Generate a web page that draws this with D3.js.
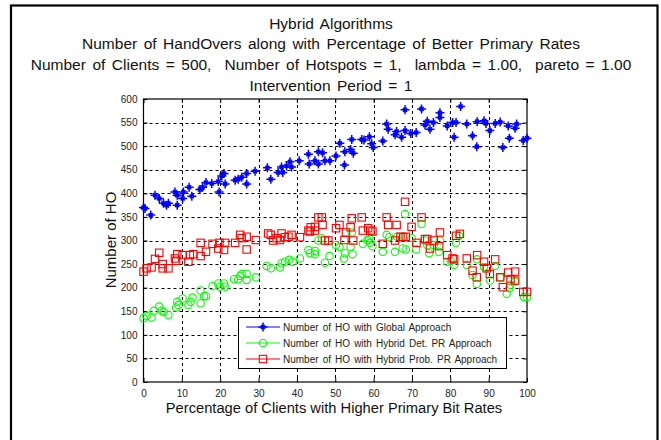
<!DOCTYPE html>
<html>
<head>
<meta charset="utf-8">
<script src="https://cdn.jsdelivr.net/npm/d3@7"></script>
<style>
  body { margin: 0; background: #fff; }
  svg { display: block; font-family: "Liberation Sans", Arial, sans-serif; }
  .pre { white-space: pre; }
</style>
</head>
<body>
<div id="chart"></div>
<script>
// Dados: [percentagem, numero de HO]
const globalHO = [
  [0,370],[0.4,368],[1.9,354],[3,396],[4.1,389],[5.2,379],[6,375],[6.5,379],[8.2,403],[8.8,396],
  [8.8,375],[10.2,389],[10.4,403],[11.9,413],[12.6,394],[14.7,408],[15.4,413],[16.3,423],[17.8,421],
  [19.5,425],[19.7,403],[20.4,437],[21,442],[21.3,420],[23.9,428],[24.7,430],[25.6,434],[26.9,442],
  [26.9,420],[29.1,447],[32.3,454],[33.2,430],[35.1,444],[36,456],[36.3,444],[37.3,458],[38.2,467],
  [38.6,456],[40.6,469],[43,483],[43.2,462],[44.7,469],[45.6,488],[45.6,462],[46.7,486],[47.3,469],
  [48.6,469],[50.2,479],[51.2,506],[52.4,460],[52.5,488],[54,493],[54.3,514],[54.7,485],[56.9,514],
  [57.5,513],[58.9,520],[59.5,505],[59.9,497],[62.4,511],[63.4,547],[63.8,536],[65.6,524],[66,531],
  [67.3,519],[68.2,577],[68.2,533],[69.7,527],[71.1,529],[72.5,579],[73.4,545],[74,553],[74.7,536],
  [75.6,550],[77.3,571],[77.3,561],[79.2,543],[80.6,550],[81,519],[81.5,550],[82.7,584],[84.3,547],
  [85.8,522],[86.9,499],[87,552],[88.8,554],[89.3,548],[90.3,533],[91.7,548],[93,551],[93.7,497],
  [95.1,543],[95.4,517],[96.9,538],[97.3,547],[99,512],[100,517]
];

const hybridDetHO = [
  [0,135],[0.8,140],[2.1,137],[2.7,151],[4.1,160],[4.7,151],[5.3,149],[6.5,142],[8.5,158],[8.8,170],
  [9.1,163],[10.2,177],[11.7,163],[12.3,170],[12.8,179],[14.9,194],[14.9,167],[15.8,182],[16.3,182],
  [18,203],[19.5,209],[19.9,202],[21,209],[21.3,202],[23.6,218],[24.7,218],[25.2,225],[25.6,229],
  [26.9,229],[26.9,216],[29.3,222],[32.1,246],[33.2,241],[35.6,243],[36,252],[36.9,255],[38,259],
  [38.9,255],[40.8,262],[43,280],[43.4,273],[44.7,271],[45.6,300],[44.7,278],[46.5,305],[47.3,253],
  [48.5,267],[50.2,290],[51.1,286],[52.3,262],[52.5,273],[54,287],[54.3,317],[54.5,271],[57.2,293],
  [58.4,301],[58.9,305],[59.1,295],[59.7,288],[62.4,276],[63.4,312],[64.1,307],[65.6,276],[66.2,308],
  [67.6,283],[68.2,356],[68.4,281],[69.9,305],[71.1,281],[72.5,335],[73.4,300],[74,290],[74.5,273],
  [75.7,290],[77.1,276],[77.3,300],[79.2,255],[80.1,257],[81,248],[81.5,295],[82.3,310],[84.3,248],
  [85.8,227],[86.9,208],[87,260],[88.8,244],[89.5,243],[90.4,215],[91.7,246],[93.1,222],[94.7,187],
  [95.4,199],[95.7,206],[96.9,213],[99.2,180],[100,180]
];

const hybridProbHO = [
  [0,234],[0.8,241],[2.1,243],[3,261],[4.1,274],[5,250],[5,241],[6.5,241],[8.2,262],[8.5,257],
  [8.8,271],[10.2,269],[11.7,255],[12.1,269],[13,271],[14.9,267],[14.9,295],[16.3,276],[18,293],
  [19.5,283],[19.8,295],[21,280],[21.3,295],[23.9,295],[25.2,312],[25.6,305],[26.9,281],[26.9,308],
  [29.3,301],[32.5,315],[33.2,312],[33.8,300],[34.7,305],[35.6,301],[36,315],[36.9,307],[37.8,308],
  [38.6,312],[40.8,307],[43,321],[43.6,328],[44.7,329],[45.6,349],[43.4,319],[44.7,321],[46.5,349],
  [46.7,333],[47.3,300],[48.2,300],[50.2,326],[51.1,333],[52.4,301],[52.8,317],[54,328],[54.3,347],
  [54.7,300],[56.9,349],[57.2,321],[58.6,326],[59.2,321],[59.7,319],[62.4,293],[63.4,349],[63.8,333],
  [65.6,300],[66,333],[67,308],[67.7,307],[68.2,382],[68.4,308],[69.9,329],[71.2,295],[72.5,349],
  [73.4,303],[74,303],[74.7,283],[75.7,300],[77.1,288],[77.3,317],[79.2,269],[80.6,262],[81,260],
  [81.5,310],[82.5,314],[84.3,262],[85.8,236],[86.9,222],[87,269],[88.8,255],[89.5,241],[90.3,229],
  [91.7,260],[93,222],[93.7,201],[95.1,232],[95.7,218],[96.9,234],[96.9,215],[99,191],[100,191]
];

const titleLines = [
  'Hybrid Algorithms',
  'Number of HandOvers along with Percentage of Better Primary Rates',
  'Number of Clients = 500,  Number of Hotspots = 1,  lambda = 1.00,  pareto = 1.00',
  'Intervention Period = 1'
];
const legendLabels = [
  'Number of HO with Global Approach',
  'Number of HO with Hybrid Det. PR Approach',
  'Number of HO with Hybrid Prob. PR Approach'
];
const xTicks = [0, 10, 20, 30, 40, 50, 60, 70, 80, 90, 100];
const yTicks = [0, 50, 100, 150, 200, 250, 300, 350, 400, 450, 500, 550, 600];

const width = 661, height = 440;
const plot = { left: 143.5, right: 527, top: 99, bottom: 382 };

const svg = d3.select('#chart').append('svg')
  .attr('width', width)
  .attr('height', height);

// moldura externa
svg.append('rect')
  .attr('x', 11).attr('y', 5.5)
  .attr('width', 646.5).attr('height', 450)
  .attr('fill', 'none')
  .attr('stroke', '#000')
  .attr('stroke-width', 2.2);

// titulo (espacos largos como no original)
svg.append('g').selectAll('text')
  .data(titleLines)
  .enter().append('text')
  .attr('class', 'pre')
  .attr('x', 331)
  .attr('y', (d, i) => 28.5 + i * 20.8)
  .attr('text-anchor', 'middle')
  .attr('font-size', '15.5px')
  .attr('word-spacing', '2.2px')
  .attr('fill', '#111')
  .text(d => d);

const x = d3.scaleLinear().domain([0, 100]).range([plot.left, plot.right]);
const y = d3.scaleLinear().domain([0, 600]).range([plot.bottom, plot.top]);

// grade tracejada
const grid = svg.append('g').attr('stroke', '#000').attr('stroke-width', 1).attr('stroke-dasharray', '3,3');
grid.selectAll('.gx').data(xTicks.slice(1, -1)).enter().append('line')
  .attr('x1', d => Math.round(x(d)) + 0.5).attr('x2', d => Math.round(x(d)) + 0.5)
  .attr('y1', plot.top).attr('y2', plot.bottom);
grid.selectAll('.gy').data(yTicks.slice(1, -1)).enter().append('line')
  .attr('y1', d => Math.round(y(d)) + 0.5).attr('y2', d => Math.round(y(d)) + 0.5)
  .attr('x1', plot.left).attr('x2', plot.right);

// eixos (ticks para dentro)
const xAxis = svg.append('g')
  .attr('transform', `translate(0,${plot.bottom})`)
  .call(d3.axisBottom(x).tickValues(xTicks).tickSize(-4).tickPadding(8).tickFormat(d3.format('d')));
const yAxis = svg.append('g')
  .attr('transform', `translate(${plot.left},0)`)
  .call(d3.axisLeft(y).tickValues(yTicks).tickSize(-4).tickPadding(6).tickFormat(d3.format('d')));
svg.append('g')
  .attr('transform', `translate(0,${plot.top})`)
  .call(d3.axisTop(x).tickValues(xTicks).tickSize(-4).tickFormat(''));
svg.append('g')
  .attr('transform', `translate(${plot.right},0)`)
  .call(d3.axisRight(y).tickValues(yTicks).tickSize(-4).tickFormat(''));

svg.selectAll('.domain').remove();
svg.selectAll('.tick line').attr('stroke', '#000');
[xAxis, yAxis].forEach(a => a.selectAll('text')
  .attr('font-family', '"Liberation Sans", Arial, sans-serif')
  .attr('font-size', '10px')
  .attr('fill', '#222'));

svg.append('rect')
  .attr('x', plot.left).attr('y', plot.top)
  .attr('width', plot.right - plot.left).attr('height', plot.bottom - plot.top)
  .attr('fill', 'none').attr('stroke', '#000').attr('stroke-width', 1.2);

// rotulos dos eixos
svg.append('text')
  .attr('x', 334).attr('y', 413)
  .attr('text-anchor', 'middle')
  .attr('font-size', '14.7px')
  .attr('fill', '#111')
  .text('Percentage of Clients with Higher Primary Bit Rates');
svg.append('text')
  .attr('transform', 'translate(116,240) rotate(-90)')
  .attr('text-anchor', 'middle')
  .attr('font-size', '15px')
  .attr('fill', '#111')
  .text('Number of HO');

// marcadores
function drawStar(g, cx, cy) {
  g.append('path')
    .attr('d', `M${cx - 4.5},${cy}H${cx + 4.5}M${cx},${cy - 4.5}V${cy + 4.5}` +
      `M${cx - 2},${cy - 2}L${cx + 2},${cy + 2}M${cx - 2},${cy + 2}L${cx + 2},${cy - 2}`)
    .attr('stroke', '#0000ff').attr('stroke-width', 1.5).attr('fill', 'none');
}
function drawCircle(g, cx, cy) {
  g.append('circle').attr('cx', cx).attr('cy', cy).attr('r', 3.7)
    .attr('stroke', '#00ff00').attr('stroke-width', 1.1).attr('fill', 'none');
}
function drawSquare(g, cx, cy) {
  g.append('rect').attr('x', cx - 3.7).attr('y', cy - 3.7).attr('width', 7.4).attr('height', 7.4)
    .attr('stroke', '#ff0000').attr('stroke-width', 1.1).attr('fill', 'none');
}

const marks = svg.append('g');
const series = [
  { data: globalHO, draw: drawStar, color: '#0000ff' },
  { data: hybridDetHO, draw: drawCircle, color: '#00ff00' },
  { data: hybridProbHO, draw: drawSquare, color: '#ff0000' }
];
series.forEach(s => {
  const g = marks.append('g');
  s.data.forEach(d => s.draw(g, x(d[0]), y(d[1])));
});

// legenda
const legend = svg.append('g');
legend.append('rect')
  .attr('x', 238.5).attr('y', 317.5).attr('width', 268).attr('height', 51)
  .attr('fill', '#fff').attr('stroke', '#000').attr('stroke-width', 1);
series.forEach((s, i) => {
  const ly = 327 + i * 16;
  const g = legend.append('g');
  g.append('line').attr('x1', 246).attr('x2', 280).attr('y1', ly).attr('y2', ly)
    .attr('stroke', s.color).attr('stroke-width', 1);
  s.draw(g, 263, ly);
  g.append('text').attr('x', 283).attr('y', ly + 3.5)
    .attr('font-size', '10px').attr('word-spacing', '1.3px').attr('fill', '#222')
    .text(legendLabels[i]);
});
</script>
</body>
</html>
